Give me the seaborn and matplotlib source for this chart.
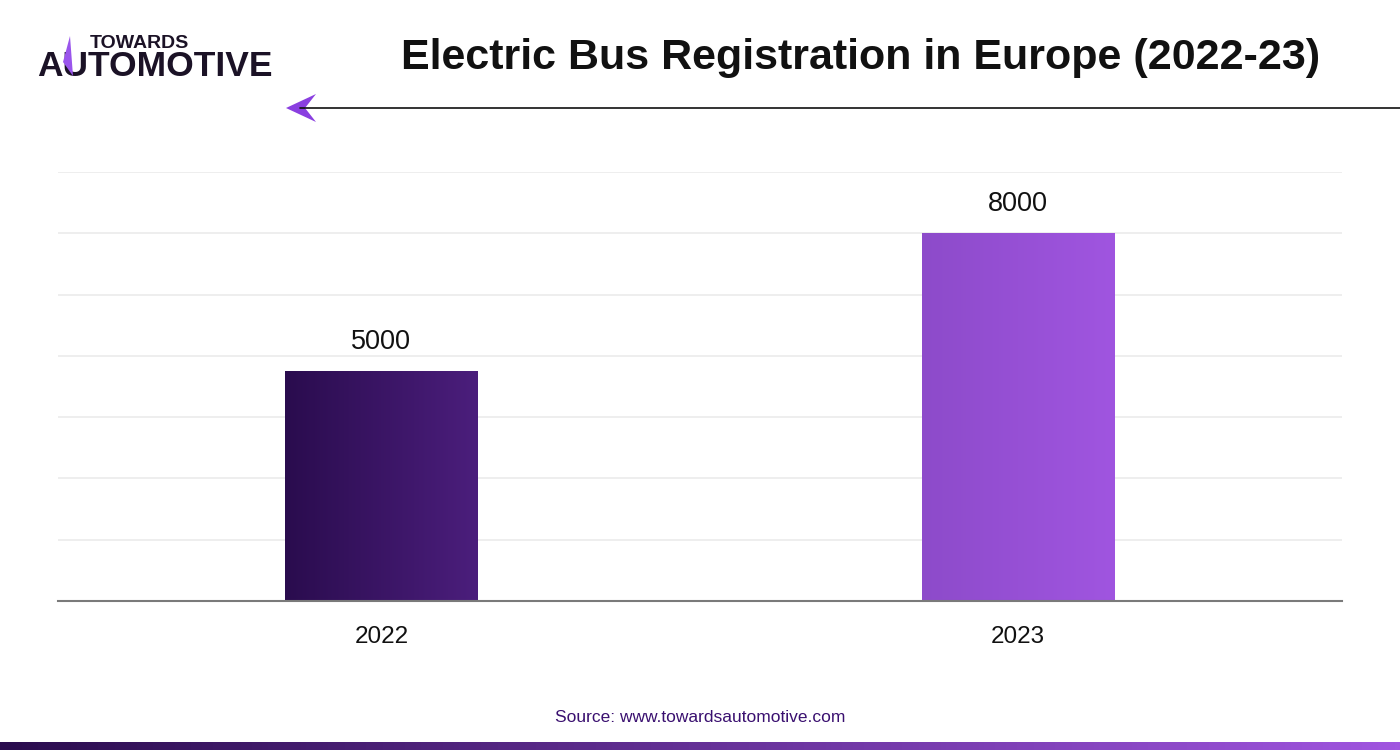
import numpy as np
import pandas as pd
import matplotlib
matplotlib.use("Agg")
import matplotlib.pyplot as plt
import seaborn as sns
from matplotlib.colors import LinearSegmentedColormap
from matplotlib.patches import Polygon

# ---- Data ----
years = ["2022", "2023"]
registrations = [5000, 8000]
bar_colors = [("#2a0c4e", "#4b1e7c"), ("#8d4bca", "#a055e0")]

sns.set_theme(style="white")
plt.rcParams["font.family"] = ["Liberation Sans", "DejaVu Sans"]

df = pd.DataFrame({"year": years, "registrations": registrations})

fig = plt.figure(figsize=(14, 7.5), dpi=100)
ax = fig.add_axes([58 / 1400, 1 - 601 / 750, 1284 / 1400, 429 / 750])

sns.barplot(data=df, x="year", y="registrations", width=0.303, ax=ax,
            color="#ffffff", linewidth=0)

step = 8000 / 6
ax.set_yticks([i * step for i in range(1, 8)])
ax.yaxis.grid(True, color="#ebebeb", linewidth=1.2)
ax.set_axisbelow(True)
ax.tick_params(axis="y", left=False, labelleft=False)
ax.tick_params(axis="x", bottom=False, labelsize=17.5, pad=12, labelcolor="#111111")
ax.set_xlabel("")
ax.set_ylabel("")
for s in ["top", "right", "left"]:
    ax.spines[s].set_visible(False)
ax.spines["bottom"].set_color("#7a7a7a")
ax.spines["bottom"].set_linewidth(1.5)

# gradient fills for bars
grad = np.linspace(0, 1, 256).reshape(1, -1)
for patch, (c0, c1), val in zip(ax.patches, bar_colors, registrations):
    x0, y0 = patch.get_x(), patch.get_y()
    w, h = patch.get_width(), patch.get_height()
    cmap = LinearSegmentedColormap.from_list("g", [c0, c1])
    im = ax.imshow(grad, cmap=cmap, aspect="auto", extent=[x0, x0 + w, y0, y0 + h],
                   zorder=2)
    im.set_clip_path(patch)
    patch.set_facecolor("none")
    ax.annotate(f"{val}", (x0 + w / 2, y0 + h), xytext=(0, 12),
                textcoords="offset points", ha="center", va="bottom",
                fontsize=19.5, color="#111111")
ax.set_xlim(-0.508, 1.509)
ax.set_ylim(0, 7 * step)

# title
fig.text(861 / 1400, 1 - 58 / 750, "Electric Bus Registration in Europe (2022-23)",
         ha="center", va="center", fontsize=31, fontweight="bold", color="#111111")

# header line with arrow
fig.add_artist(plt.Line2D([300 / 1400, 1.0], [1 - 108 / 750] * 2,
                          color="#111111", linewidth=1.2))
arrow = [(286, 108), (316, 94), (305, 108), (316, 122)]
fig.add_artist(Polygon([(x / 1400, 1 - y / 750) for x, y in arrow],
                       closed=True, facecolor="#8a3fe0", edgecolor="none",
                       transform=fig.transFigure))

# logo
fig.text(90 / 1400, 1 - 43 / 750, "TOWARDS", ha="left", va="center",
         fontsize=14, fontweight="bold", color="#1b1226")
fig.text(37 / 1400, 1 - 67 / 750, "AUTOMOTIVE", ha="left", va="center",
         fontsize=25.5, fontweight="bold", color="#1b1226")
logo_tri = [(70, 36), (63, 62), (73, 76)]
fig.add_artist(Polygon([(x / 1400, 1 - y / 750) for x, y in logo_tri],
                       closed=True, facecolor="#9a55ec", edgecolor="none",
                       transform=fig.transFigure, zorder=5))

# source
fig.text(700 / 1400, 1 - 717 / 750, "Source: www.towardsautomotive.com",
         ha="center", va="center", fontsize=12.5, color="#3a1070")

# bottom gradient strip
strip = fig.add_axes([0, 0, 1, 8 / 750])
strip.imshow(grad, cmap=LinearSegmentedColormap.from_list("s", ["#2a0c4e", "#a055e0"]),
             aspect="auto")
strip.axis("off")

fig.savefig("out.png", dpi=100, facecolor="white")
